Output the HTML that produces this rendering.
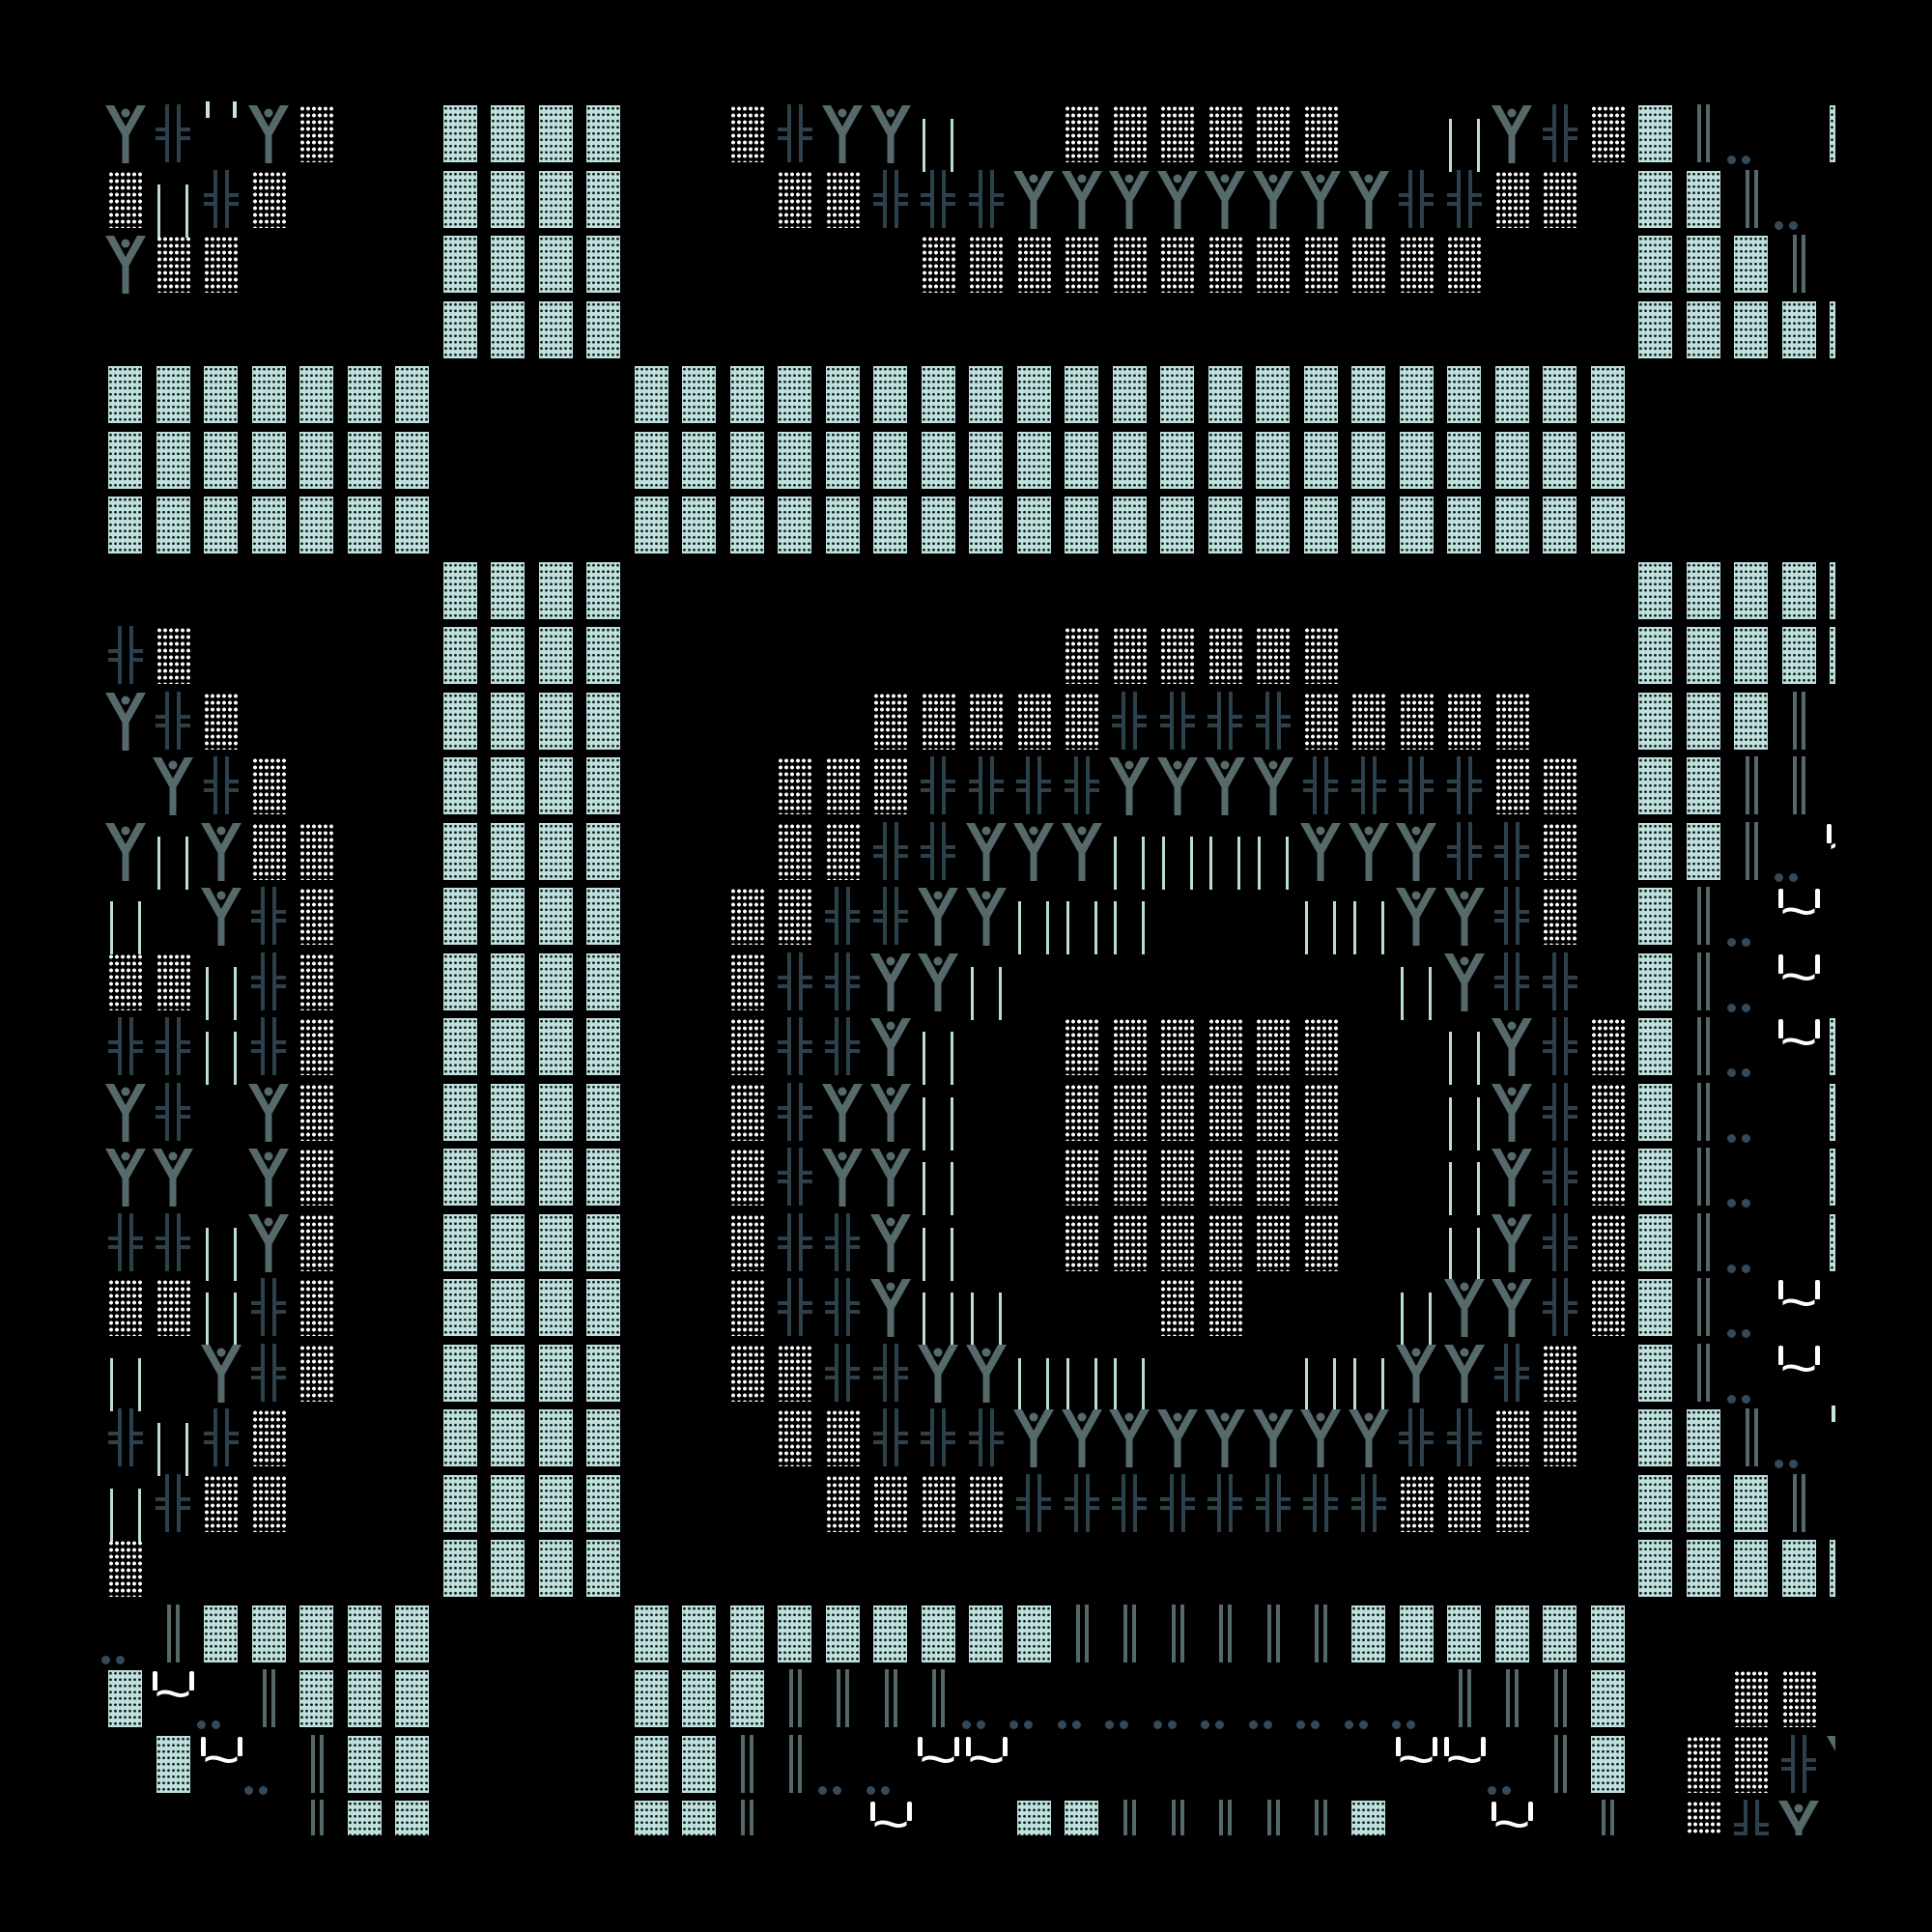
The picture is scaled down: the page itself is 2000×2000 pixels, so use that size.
<!DOCTYPE html>
<html><head><meta charset="utf-8">
<style>
html,body{margin:0;padding:0;background:#000;}
body{width:2000px;height:2000px;position:relative;overflow:hidden;}
#clip{position:absolute;left:100px;top:100px;width:1800px;height:1800px;overflow:hidden;}
.g{position:absolute;}
.L{width:35px;height:59px;background:radial-gradient(circle,#0b1c1c 1.2px,transparent 1.6px) 0 0/5px 6.5px,#bfe0dc;}
.D{width:35px;height:59px;background:radial-gradient(circle,#fff 1.8px,transparent 2.1px) 0 0/6px 7px;}
.tx{position:absolute;color:#fff;font-family:"Liberation Sans",sans-serif;line-height:1;}
</style></head>
<body>
<div id="clip"></div>
<script>
var rows=[
"YHqYD..LLLL..DHYYB..DDDDDD..BYHDLGP.L",
"DBHD...LLLL...DDHHHYYYYYYYYHHDD.LLGP.",
"YDD....LLLL......DDDDDDDDDDDD...LLLG.",
".......LLLL.....................LLLLL",
"LLLLLLL....LLLLLLLLLLLLLLLLLLLLL.....",
"LLLLLLL....LLLLLLLLLLLLLLLLLLLLL.....",
"LLLLLLL....LLLLLLLLLLLLLLLLLLLLL.....",
".......LLLL.....................LLLLL",
"HD.....LLLL.........DDDDDD......LLLLL",
"YHD....LLLL.....DDDDDHHHHDDDDD..LLLG.",
".YHD...LLLL...DDDHHHHYYYYHHHHDD.LLGG.",
"YBYDD..LLLL...DDHHYYYBBBBYYYHHD.LLGPT",
"B.YHD..LLLL..DDHHYYBBB...BBYYHD.LGPT.",
"DDBHD..LLLL..DHHYYB........BYHH.LGPT.",
"HHBHD..LLLL..DHHYB..DDDDDD..BYHDLGPTL",
"YH.YD..LLLL..DHYYB..DDDDDD..BYHDLGP.L",
"YY.YD..LLLL..DHYYB..DDDDDD..BYHDLGP.L",
"HHBYD..LLLL..DHHYB..DDDDDD..BYHDLGP.L",
"DDBHD..LLLL..DHHYBB...DD...BYYHDLGPT.",
"B.YHD..LLLL..DDHHYYBBB...BBYYHD.LGPT.",
"HBHD...LLLL...DDHHHYYYYYYYYHHDD.LLGPq",
"BHDD...LLLL....DDDDHHHHHHHHDDD..LLLG.",
"D......LLLL.....................LLLLL",
"PGLLLLL....LLLLLLLLLGGGGGGLLLLLL.....",
"LTPGLLL....LLLGGGGPPPPPPPPPPGGGL..DD.",
".LTPGLL....LLGGPPTT........TTPGL.DDHY",
"....GLL....LLG..T..LLGGGGGL..T.G.DHY."
];
var clip=document.getElementById('clip');
var html='';
function box(cls,x,y,w,h,extra){return '<div class="g '+cls+'" style="left:'+x+'px;top:'+y+'px;width:'+w+'px;height:'+h+'px;'+(extra||'')+'"></div>';}
for(var r=0;r<rows.length;r++){
 for(var c=0;c<rows[r].length;c++){
  var ch=rows[r][c]; if(ch=='.')continue;
  var cx=29.5+49.5*c, cy=38+67.5*r;
  if(ch=='L'){html+=box('L',cx-17.5,cy-29,35,59);}
  else if(ch=='D'){html+=box('D',cx-17.5,cy-29,35,59);}
  else if(ch=='Y'){
   html+='<svg class="g" style="left:'+(cx-21)+'px;top:'+(cy-29)+'px" width="42" height="60" viewBox="0 0 42 60"><polygon fill="#56696b" points="0,0 9,0 21,22 33,0 42,0 24.5,31 24.5,60 17.5,60 17.5,31"/><circle cx="21" cy="8" r="4.5" fill="#56696b"/></svg>';
  }
  else if(ch=='H'){
   var col='#2c414c';
   html+=box('',cx-8,cy-30,4,60,'background:'+col);
   html+=box('',cx+4,cy-30,4,60,'background:'+col);
   html+=box('',cx-18,cy-6,14,4,'background:'+col);
   html+=box('',cx+4,cy-6,14,4,'background:'+col);
   html+=box('',cx-18,cy+3,14,4,'background:'+col);
   html+=box('',cx+4,cy+3,14,4,'background:'+col);
  }
  else if(ch=='B'){
   html+=box('',cx-16,cy-15,3,55,'background:#b9dcd8');
   html+=box('',cx+13,cy-15,3,55,'background:#b9dcd8');
  }
  else if(ch=='G'){
   html+=box('',cx-6,cy-30,4,60,'background:#55696b');
   html+=box('',cx+3,cy-30,4,60,'background:#55696b');
  }
  else if(ch=='P'){
   html+=box('',cx-25,cy+23,9,9,'background:#34495a;border-radius:50%');
   html+=box('',cx-10,cy+23,9,9,'background:#34495a;border-radius:50%');
  }
  else if(ch=='T'){
   html+=box('',cx-21,cy-28,5,20,'background:#fff;border-radius:2px 2px 1px 1px');
   html+=box('',cx+17,cy-28,5,20,'background:#fff;border-radius:2px 2px 1px 1px');
   html+='<div class="tx" style="left:'+(cx-17)+'px;top:'+(cy-33)+'px;font-size:58px;transform:scaleX(1.15);">~</div>';
  }
  else if(ch=='q'){
   html+=box('',cx-16,cy-33,4,17,'background:#c8e4e0');
   html+=box('',cx+12,cy-33,4,17,'background:#c8e4e0');
  }
 }
}
clip.innerHTML=html;
</script>
</body></html>
